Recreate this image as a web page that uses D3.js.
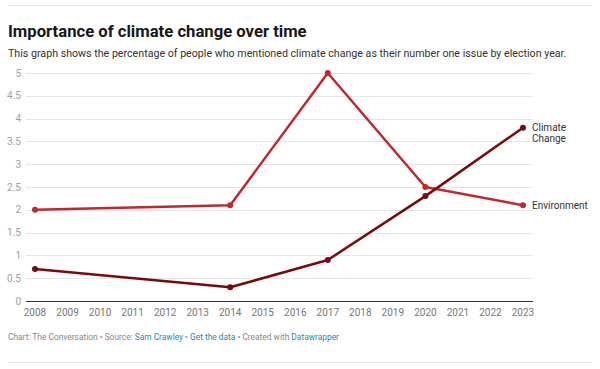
<!DOCTYPE html>
<html><head><meta charset="utf-8">
<script src="https://cdn.jsdelivr.net/npm/d3@7"></script>
<style>body{margin:0;background:#fff;font-family:Roboto,sans-serif}</style>
</head><body><svg id="c" width="600" height="369"></svg>
<script>
const years = [2008, 2014, 2017, 2020, 2023];
const environment = [2.0, 2.1, 5.0, 2.5, 2.1];
const climateChange = [0.7, 0.3, 0.9, 2.3, 3.8];
const yTicks = [0, 0.5, 1, 1.5, 2, 2.5, 3, 3.5, 4, 4.5, 5];
const xTicks = d3.range(2008, 2024);
const seriesNames = ["Environment", "Climate Change"];

const svg = d3.select("#c");
function fit(sel, size, width) {
  sel.attr("font-size", size);
  const w = sel.node().getComputedTextLength();
  if (w > width) sel.attr("font-size", size * width / w);
}
svg.append("line").attr("x1",8).attr("x2",592).attr("y1",5.5).attr("y2",5.5).attr("stroke","#e5e5e5");
svg.append("line").attr("x1",8).attr("x2",592).attr("y1",362.5).attr("y2",362.5).attr("stroke","#e5e5e5");
const title = svg.append("text").attr("x",8).attr("y",37).attr("font-weight",700).attr("fill","#181818")
  .text("Importance of climate change over time");
fit(title, 18, 299);
const sub = svg.append("text").attr("x",8).attr("y",57).attr("fill","#333")
  .text("This graph shows the percentage of people who mentioned climate change as their number one issue by election year.");
fit(sub, 11.5, 559);

const x = d3.scaleLinear().domain([2008, 2023]).range([35, 523]);
const y = d3.scaleLinear().domain([0, 5]).range([301, 73]);

const grid = svg.append("g");
yTicks.forEach(t => {
  grid.append("line").attr("x1",26).attr("x2",533).attr("y1",Math.round(y(t))+0.5).attr("y2",Math.round(y(t))+0.5)
    .attr("stroke", t===0 ? "#333" : "#e6e6e6").attr("stroke-width",1);
  grid.append("text").attr("x",21).attr("y",y(t)+3.5).attr("text-anchor","end").attr("font-size",10).attr("fill","#a0a0a0").text(t);
});
xTicks.forEach(t => {
  svg.append("text").attr("x",x(t)).attr("y",316).attr("text-anchor","middle").attr("font-size",10).attr("fill","#777").text(t);
});

const colors = ["#c1272d", "#7a0a0a"];
const data = [environment, climateChange];
const line = d3.line().x((d,i)=>x(years[i])).y(d=>y(d));
data.forEach((s,k) => {
  svg.append("path").datum(s).attr("d",line).attr("fill","none").attr("stroke",colors[k]).attr("stroke-width",2.5).attr("stroke-linejoin","round");
  svg.selectAll(null).data(s).enter().append("circle").attr("cx",(d,i)=>x(years[i])).attr("cy",d=>y(d)).attr("r",3).attr("fill",colors[k]);
});
svg.append("text").attr("x",532).attr("y",y(environment[4])+3.5).attr("font-size",10).attr("fill","#333").text(seriesNames[0]);
const cl = svg.append("text").attr("x",532).attr("y",y(climateChange[4])+3.5).attr("font-size",10).attr("fill","#333");
cl.append("tspan").attr("x",532).text("Climate");
cl.append("tspan").attr("x",532).attr("dy",11).text("Change");

const f = svg.append("text").attr("x",8).attr("y",340).attr("font-size",8.4).attr("fill","#888");
f.append("tspan").text("Chart: The Conversation • Source: ");
f.append("tspan").attr("fill","#1d8bb0").text("Sam Crawley");
f.append("tspan").text(" • ");
f.append("tspan").attr("fill","#1d8bb0").text("Get the data");
f.append("tspan").text(" • Created with ");
f.append("tspan").attr("fill","#1d8bb0").text("Datawrapper");
</script></body></html>
